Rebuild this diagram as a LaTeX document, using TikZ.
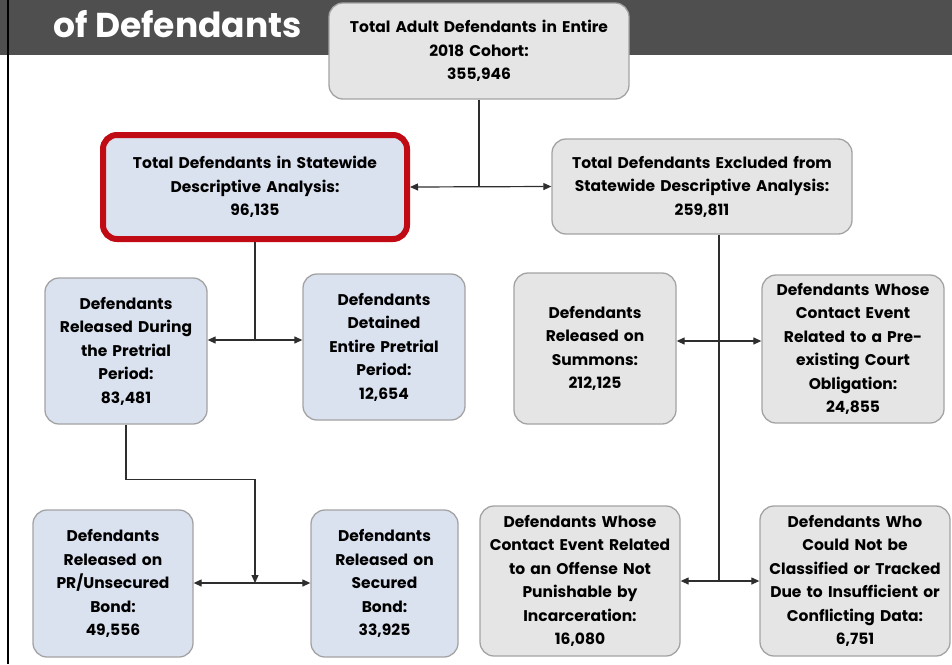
\documentclass[tikz,border=0pt]{standalone}
\usepackage{fontspec}
\setmainfont{Poppins}
\usetikzlibrary{arrows.meta}
\definecolor{hdr}{HTML}{4F4F4F}
\definecolor{bluefill}{HTML}{DAE1EF}
\definecolor{grayfill}{HTML}{E6E5E5}
\definecolor{boxline}{HTML}{A3A3A3}
\definecolor{redline}{HTML}{C00A14}
\definecolor{conn}{HTML}{2E2E2E}
\begin{document}
\begin{tikzpicture}[x=1pt,y=-1pt,
  box/.style={rounded corners=14pt, draw=boxline, line width=1.3pt, align=center,
    inner sep=0pt, font=\fontsize{15.5}{23.5}\selectfont\bfseries},
  bluebox/.style={box, fill=bluefill},
  graybox/.style={box, fill=grayfill},
  link/.style={draw=conn, line width=1.2pt},
  tip/.style={link, {Triangle[length=8pt,width=7pt]}-{Triangle[length=8pt,width=7pt]}}]
  \useasboundingbox (0,0) rectangle (952,664);
  \fill[hdr] (0,0) rectangle (952,55);
  \draw[line width=2.5pt] (8,0) -- (8,664);
  \node[anchor=west, text=white, font=\fontsize{34.5}{34.5}\selectfont\bfseries] (title) at (50,24) {of Defendants};
  \node[graybox, minimum width=300, minimum height=96, text width=296] (cohort) at (479,51)
    {Total Adult Defendants in Entire\\2018 Cohort:\\355,946};
  \node[bluebox, draw=redline, line width=6pt, minimum width=304, minimum height=104, text width=296] (incl) at (255,187)
    {Total Defendants in Statewide\\Descriptive Analysis:\\96,135};
  \node[graybox, minimum width=300, minimum height=95, text width=296] (excl) at (702,186.5)
    {Total Defendants Excluded from\\Statewide Descriptive Analysis:\\259,811};
  \node[bluebox, minimum width=162, minimum height=146, text width=160] (rel) at (126,351)
    {Defendants\\Released During\\the Pretrial\\Period:\\83,481};
  \node[bluebox, minimum width=162, minimum height=146, text width=160] (det) at (384,347)
    {Defendants\\Detained\\Entire Pretrial\\Period:\\12,654};
  \node[graybox, minimum width=162, minimum height=151, text width=160] (summ) at (595,348.5)
    {Defendants\\Released on\\Summons:\\212,125};
  \node[graybox, minimum width=182, minimum height=148, text width=180] (prior) at (853,349)
    {Defendants Whose\\Contact Event\\Related to a Pre-\\existing Court\\Obligation:\\24,855};
  \node[bluebox, minimum width=160, minimum height=147, text width=158] (pr) at (113,583.5)
    {Defendants\\Released on\\PR/Unsecured\\Bond:\\49,556};
  \node[bluebox, minimum width=147, minimum height=147, text width=145] (sec) at (384.5,583.5)
    {Defendants\\Released on\\Secured\\Bond:\\33,925};
  \node[graybox, minimum width=200, minimum height=150, text width=198] (offense) at (580,581)
    {Defendants Whose\\Contact Event Related\\to an Offense Not\\Punishable by\\Incarceration:\\16,080};
  \node[graybox, minimum width=190, minimum height=150, text width=188] (unk) at (855,581)
    {Defendants Who\\Could Not be\\Classified or Tracked\\Due to Insufficient or\\Conflicting Data:\\6,751};
  \coordinate (j2) at (255,340);
  \coordinate (j3) at (719,341);
  \coordinate (j4) at (255,583);
  \draw[link] (cohort.south) -- (cohort.south |- incl.east);
  \draw[tip] (incl.east) -- (excl.west);
  \draw[link] (incl.south) -- (j2);
  \draw[tip] (rel.east |- j2) -- (det.west |- j2);
  \draw[link] (excl.south -| j3) -- (j3 |- offense.east);
  \draw[tip] (summ.east |- j3) -- (prior.west |- j3);
  \draw[tip] (offense.east) -- (unk.west);
  \draw[link, -{Triangle[length=8pt,width=7pt]}] (rel.south) -- ++(0,55) -| (j4);
  \draw[tip] (pr.east |- j4) -- (sec.west |- j4);
\end{tikzpicture}
\end{document}
